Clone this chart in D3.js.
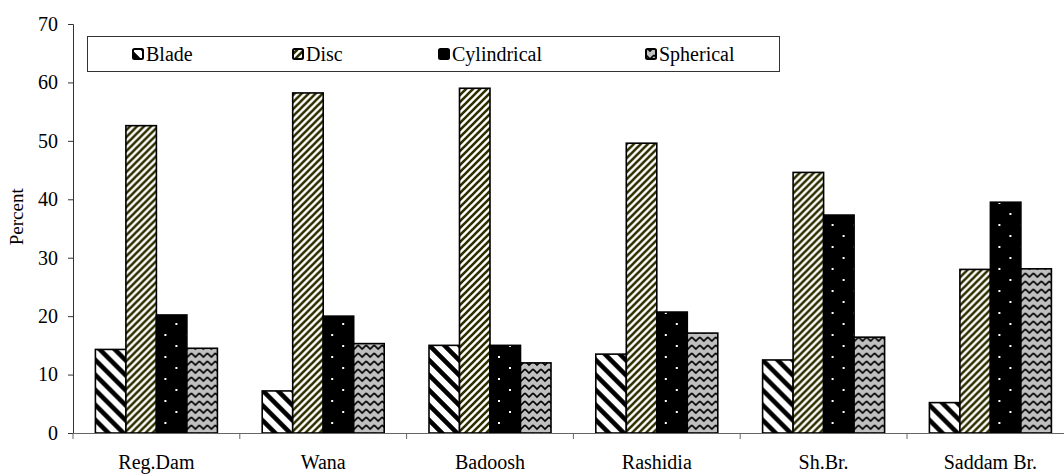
<!DOCTYPE html>
<html>
<head>
<meta charset="utf-8">
<script src="https://cdn.jsdelivr.net/npm/d3@7"></script>
<style>
  html, body { margin: 0; padding: 0; background: #fff; }
</style>
</head>
<body>
<svg id="chart" width="1064" height="474"></svg>
<script>
// Sampling sites and particle-shape percentages
const sites = ["Reg.Dam", "Wana", "Badoosh", "Rashidia", "Sh.Br.", "Saddam Br."];
const shapes = ["Blade", "Disc", "Cylindrical", "Spherical"];
const blade       = [14.3, 7.2, 15.0, 13.5, 12.5, 5.2];
const disc        = [52.6, 58.2, 59.0, 49.6, 44.6, 28.0];
const cylindrical = [20.2, 20.0, 15.0, 20.7, 37.3, 39.5];
const spherical   = [14.5, 15.3, 12.0, 17.1, 16.4, 28.1];
const yTicks = [0, 10, 20, 30, 40, 50, 60, 70];

const seriesValues = [blade, disc, cylindrical, spherical];
const FONT = "Liberation Serif";

const svg = d3.select("#chart");
const defs = svg.append("defs");

// Fill patterns for each shape class
const pBlade = defs.append("pattern").attr("id", "p-blade")
  .attr("patternUnits", "userSpaceOnUse").attr("width", 15).attr("height", 15);
pBlade.append("rect").attr("width", 15).attr("height", 15).attr("fill", "#fff");
pBlade.append("path").attr("d", "M-1,-1 L16,16 M-5,10 L5,20 M10,-5 L20,5")
  .attr("stroke", "#000").attr("stroke-width", 4.6);

const pDisc = defs.append("pattern").attr("id", "p-disc")
  .attr("patternUnits", "userSpaceOnUse").attr("width", 7).attr("height", 7);
pDisc.append("rect").attr("width", 7).attr("height", 7).attr("fill", "#fff");
pDisc.append("path").attr("d", "M-1,8 L8,-1 M-4,4 L4,-4 M3,11 L11,3")
  .attr("stroke", "#2e2e00").attr("stroke-width", 2.6);

const pCyl = defs.append("pattern").attr("id", "p-cyl")
  .attr("patternUnits", "userSpaceOnUse").attr("width", 22).attr("height", 22);
pCyl.append("rect").attr("width", 22).attr("height", 22).attr("fill", "#000");
pCyl.append("rect").attr("x", 3).attr("y", 4).attr("width", 2).attr("height", 2).attr("fill", "#fff");
pCyl.append("rect").attr("x", 14).attr("y", 15).attr("width", 2).attr("height", 2).attr("fill", "#fff");

const pSph = defs.append("pattern").attr("id", "p-sph")
  .attr("patternUnits", "userSpaceOnUse").attr("width", 8).attr("height", 8);
pSph.append("rect").attr("width", 8).attr("height", 8).attr("fill", "#c0c0c0");
pSph.append("path").attr("d", "M0,1 L4,5 L8,1 M0,9 L4,13 L8,9 M0,-7 L4,-3 L8,-7")
  .attr("stroke", "#000").attr("stroke-width", 1.6).attr("fill", "none");

const fills = ["url(#p-blade)", "url(#p-disc)", "url(#p-cyl)", "url(#p-sph)"];

// Scales
const x0 = 73, bandW = 166.8;
const x = d3.scaleBand().domain(sites).range([x0, x0 + bandW * sites.length]).paddingInner(0).paddingOuter(0);
const groupW = 122;
const xs = d3.scaleBand().domain(shapes).range([0, groupW]).padding(0);
const y = d3.scaleLinear().domain([0, 70]).range([433, 24]);

// Y axis
const yAxis = d3.axisLeft(y).tickValues(yTicks).tickSize(5).tickPadding(10);
const gy = svg.append("g").attr("transform", `translate(${x0},0)`).call(yAxis);
gy.attr("font-family", FONT).attr("font-size", 20);
gy.select(".domain").attr("stroke", "#333");
gy.selectAll(".tick line").attr("stroke", "#333");
gy.selectAll(".tick text").attr("fill", "#000");

// Y axis title
svg.append("text")
  .attr("transform", `translate(23,${y(37)}) rotate(-90)`)
  .attr("text-anchor", "middle")
  .attr("font-family", FONT)
  .attr("font-size", 19)
  .text("Percent");

// Bars
const groups = svg.append("g").selectAll("g")
  .data(sites)
  .join("g")
  .attr("transform", d => `translate(${x(d) + (x.bandwidth() - groupW) / 2},0)`);

groups.selectAll("rect")
  .data((d, i) => shapes.map((s, k) => ({ shape: s, k, value: seriesValues[k][i] })))
  .join("rect")
  .attr("x", d => xs(d.shape))
  .attr("width", xs.bandwidth())
  .attr("y", d => y(d.value))
  .attr("height", d => y(0) - y(d.value))
  .attr("fill", d => fills[d.k])
  .attr("stroke", "#000")
  .attr("stroke-width", 1.6);

// X axis
const xAxis = d3.axisBottom(x).tickSize(0).tickPadding(22);
const gx = svg.append("g").attr("transform", `translate(0,${y(0)})`).call(xAxis);
gx.attr("font-family", FONT).attr("font-size", 20);
gx.select(".domain").attr("stroke", "#666");
gx.selectAll(".tick text").attr("fill", "#000");
// Category separators
gx.selectAll(".sep")
  .data(sites)
  .join("line")
  .attr("class", "sep")
  .attr("x1", d => x(d)).attr("x2", d => x(d))
  .attr("y1", 0).attr("y2", 6)
  .attr("stroke", "#666");

// Legend
const legend = svg.append("g");
legend.append("rect")
  .attr("x", 87.5).attr("y", 36.5).attr("width", 692).attr("height", 35)
  .attr("fill", "#fff").attr("stroke", "#333").attr("stroke-width", 1);
const legendX = [133, 293, 439, 646];
const li = legend.selectAll("g.item")
  .data(shapes)
  .join("g").attr("class", "item")
  .attr("transform", (d, i) => `translate(${legendX[i]},54)`);
li.append("rect")
  .attr("x", 0).attr("y", -5).attr("width", 10).attr("height", 10)
  .attr("rx", 1.5)
  .attr("fill", (d, i) => fills[i])
  .attr("stroke", "#000").attr("stroke-width", 2);
li.append("text")
  .attr("x", 13).attr("y", 7)
  .attr("font-family", FONT)
  .attr("font-size", 20)
  .text(d => d);
</script>
</body>
</html>
